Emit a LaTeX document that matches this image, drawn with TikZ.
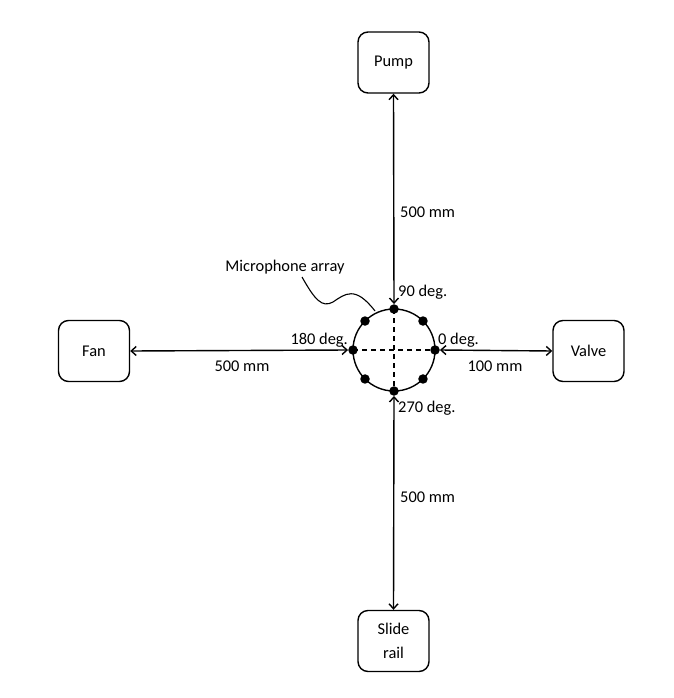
\documentclass[tikz,border=0pt]{standalone}
\usepackage{fontspec}
\setmainfont{Carlito}
\usetikzlibrary{arrows.meta,calc}
\tikzset{
  devbox/.style={draw, line width=1.4pt, rounded corners=10pt, minimum width=71pt, minimum height=61pt, align=center, font=\fontsize{16.4}{24}\selectfont},
  lbl/.style={inner sep=0pt, font=\fontsize{16.4}{20}\selectfont},
  dist/.style={line width=1.4pt, {Straight Barb[length=5pt,width=9pt]}-{Straight Barb[length=5pt,width=9pt]}},
  mic/.style={circle, fill=black, inner sep=0pt, minimum size=9.5pt},
}
\begin{document}
\begin{tikzpicture}[x=1pt,y=-1pt]
\useasboundingbox (0,0) rectangle (673,698);
% devices
\node[devbox] (pump) at (393.5,62.5) {Pump};
\node[devbox] (fan) at (94,351) {Fan};
\node[devbox] (valve) at (588.5,351) {Valve};
\node[devbox] (rail) at (393.5,641) {Slide\\rail};
% array
\coordinate (c) at (394,350);
\draw[line width=1.4pt] (c) circle (41pt);
\draw[line width=1.2pt, dash pattern=on 5pt off 4pt] (353,350) -- (435,350);
\draw[line width=1.2pt, dash pattern=on 5pt off 4pt] (394,309) -- (394,391);
\foreach \a/\n in {0/m0,45/m45,90/m90,135/m135,180/m180,225/m225,270/m270,315/m315}
  \node[mic] (\n) at ($(c)+(\a:41pt)$) {};
% connectors
\draw[dist] (pump.south) -- (m90.north);
\draw[dist] (fan.east) -- (m180.west);
\draw[dist] (m0.east) -- (valve.west);
\draw[dist] (m270.south) -- (rail.north);
% labels
\node[lbl, anchor=west] (l1) at (400,212) {500 mm};
\node[lbl] (ma) at (285,267) {Microphone array};
\node[lbl, anchor=west] (d90) at (398,292) {90 deg.};
\node[lbl, anchor=east] (d180) at (348,340) {180 deg.};
\node[lbl, anchor=west] (d0) at (438,340) {0 deg.};
\node[lbl] (l2) at (242,366) {500 mm};
\node[lbl] (l3) at (495,366) {100 mm};
\node[lbl, anchor=west] (d270) at (398,408) {270 deg.};
\node[lbl, anchor=west] (l4) at (400,497) {500 mm};
% leader
\coordinate (ls) at (302,277);
\coordinate (le) at (375,311);
\draw[line width=1.1pt] (ls) .. controls (315,300) and (322,308) .. (333,302)
  .. controls (345,294) and (355,285) .. (le);
\end{tikzpicture}
\end{document}
